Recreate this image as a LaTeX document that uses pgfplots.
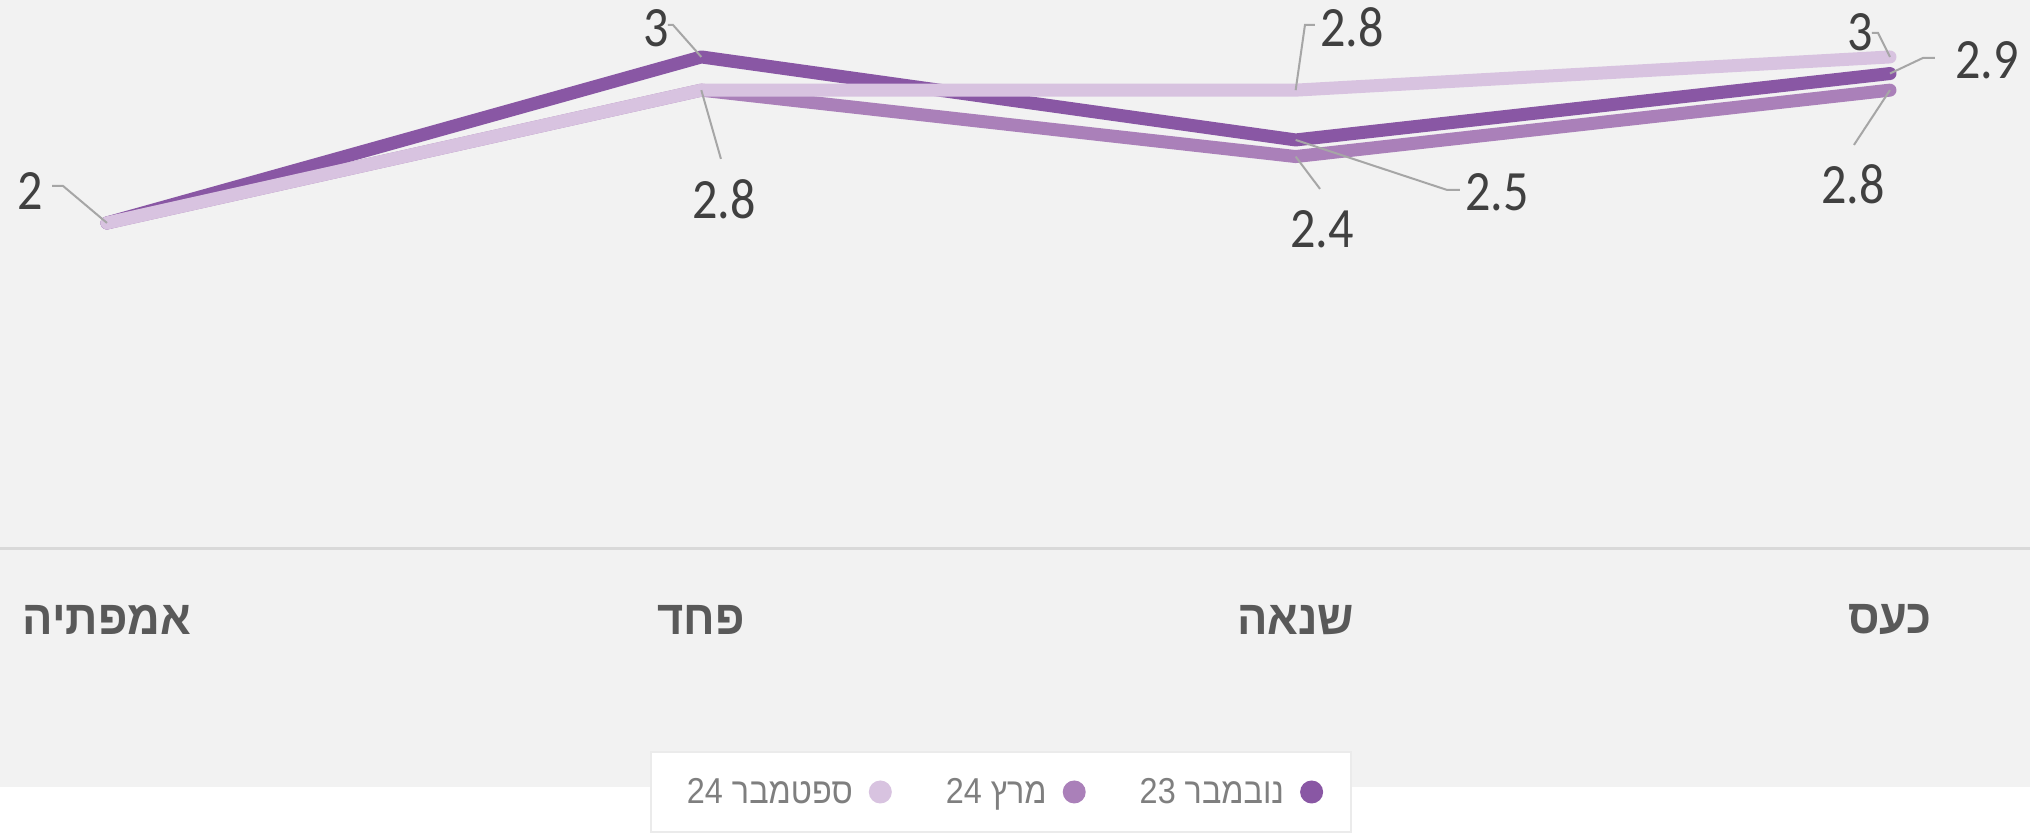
\documentclass[border=0pt]{standalone}
\usepackage{pgfplots}
\pgfplotsset{compat=1.18}
\usepackage{pgfplotstable}
\usepackage{fontspec}
\setmainfont{Carlito}
\newfontfamily\numfont[FakeStretch=0.88]{Carlito}
\newfontfamily\hebfont[Script=Hebrew,FakeStretch=0.9]{Liberation Sans}
\newfontfamily\hebbold[Script=Hebrew,FakeStretch=0.94]{Liberation Sans Bold}
\TeXXeTstate=1
\definecolor{cdark}{HTML}{8957A4}
\definecolor{cmed}{HTML}{AA80B9}
\definecolor{clight}{HTML}{D8C3E0}
\definecolor{bggray}{HTML}{F2F2F2}
\definecolor{lblcol}{HTML}{404040}
\definecolor{catcol}{HTML}{595959}
\definecolor{legcol}{HTML}{7F7F7F}
\definecolor{leader}{HTML}{A6A6A6}
\definecolor{basecol}{HTML}{D9D9D9}
\definecolor{boxedge}{HTML}{EBEBEB}

\pgfplotstableread{
x dark med light
0 2.0 2.0 2.0
1 3.0 2.8 2.8
2 2.5 2.4 2.8
3 2.9 2.8 3.0
}\datatable

\newcommand{\lbl}{\numfont\fontsize{57pt}{60pt}\selectfont\color{lblcol}}

\begin{document}
\begin{tikzpicture}
\useasboundingbox (0pt,0pt) rectangle (2030pt,833pt);
\fill[white] (0pt,0pt) rectangle (2030pt,833pt);
\fill[bggray] (0pt,46pt) rectangle (2030pt,833pt);
\filldraw[fill=white, draw=boxedge, line width=2pt] (651pt,1pt) rectangle (1351pt,81pt);
\begin{axis}[
  at={(0pt,284pt)}, anchor=south west,
  scale only axis, width=2030pt, height=549pt,
  xmin=-0.180, xmax=3.2356,
  ymin=0.036, ymax=3.343,
  clip=false,
  axis x line*=bottom, axis y line=none,
  x axis line style={draw=basecol, line width=3pt, -},
  xtick={0,1,2,3},
  xticklabels={{\hebbold\beginR אמפתיה\endR},{\hebbold\beginR פחד\endR},{\hebbold\beginR שנאה\endR},{\hebbold\beginR כעס\endR}},
  major tick length=0pt,
  xtick style={draw=none},
  xticklabel style={anchor=center, yshift=-71pt, font=\fontsize{48pt}{52pt}\selectfont, text=catcol},
  ytick=\empty,
  legend columns=3,
  reverse legend,
  legend plot pos=right,
  legend image code/.code={\fill[#1, draw=none] (0pt,0pt) circle (11.5pt);},
  legend style={at={(0.4951,-0.4426)}, anchor=center, draw=none, fill=none, inner sep=0pt,
    font=\hebfont\fontsize{36pt}{38pt}\selectfont, text=legcol,
    nodes={inner sep=0pt},
    /tikz/every odd column/.append style={column sep=16pt},
    /tikz/every even column/.append style={column sep=54pt}},
]
\addplot[color=cdark, line width=13pt, line cap=round, line join=round] table[x=x, y=dark] {\datatable};
\addlegendentry{\beginR נובמבר 23\endR}
\addplot[color=cmed, line width=13pt, line cap=round, line join=round] table[x=x, y=med] {\datatable};
\addlegendentry{\beginR מרץ 24\endR}
\addplot[color=clight, line width=13pt, line cap=round, line join=round] table[x=x, y=light] {\datatable};
\addlegendentry{\beginR ספטמבר 24\endR}

% leader lines
\draw[leader, line width=2pt] (axis cs:0,2.0) -- (axis cs:-0.074,2.223) -- (axis cs:-0.0925,2.223);
\draw[leader, line width=2pt] (axis cs:1,3.0) -- (axis cs:0.9523,3.193) -- (axis cs:0.9439,3.193);
\draw[leader, line width=2pt] (axis cs:1,2.8) -- (axis cs:1.033,2.386);
\draw[leader, line width=2pt] (axis cs:2,2.8) -- (axis cs:2.0157,3.193) -- (axis cs:2.0325,3.193);
\draw[leader, line width=2pt] (axis cs:2,2.5) -- (axis cs:2.2546,2.199) -- (axis cs:2.2765,2.199);
\draw[leader, line width=2pt] (axis cs:2,2.4) -- (axis cs:2.041,2.205);
\draw[leader, line width=2pt] (axis cs:3,3.0) -- (axis cs:2.9798,3.145) -- (axis cs:2.9697,3.145);
\draw[leader, line width=2pt] (axis cs:3,2.9) -- (axis cs:3.0555,2.994) -- (axis cs:3.0757,2.994);
\draw[leader, line width=2pt] (axis cs:3,2.8) -- (axis cs:2.9394,2.470);

% data labels
\node[font=\lbl] at (axis cs:-0.1296,2.193) {2};
\node[font=\lbl] at (axis cs:0.9237,3.175) {3};
\node[font=\lbl] at (axis cs:1.038,2.144) {2.8};
\node[font=\lbl] at (axis cs:2.0948,3.181) {2.8};
\node[font=\lbl] at (axis cs:2.3387,2.187) {2.5};
\node[font=\lbl] at (axis cs:2.0443,1.964) {2.4};
\node[font=\lbl] at (axis cs:2.9496,3.151) {3};
\node[font=\lbl] at (axis cs:3.1632,2.982) {2.9};
\node[font=\lbl] at (axis cs:2.9378,2.235) {2.8};
\end{axis}
\end{tikzpicture}
\end{document}
